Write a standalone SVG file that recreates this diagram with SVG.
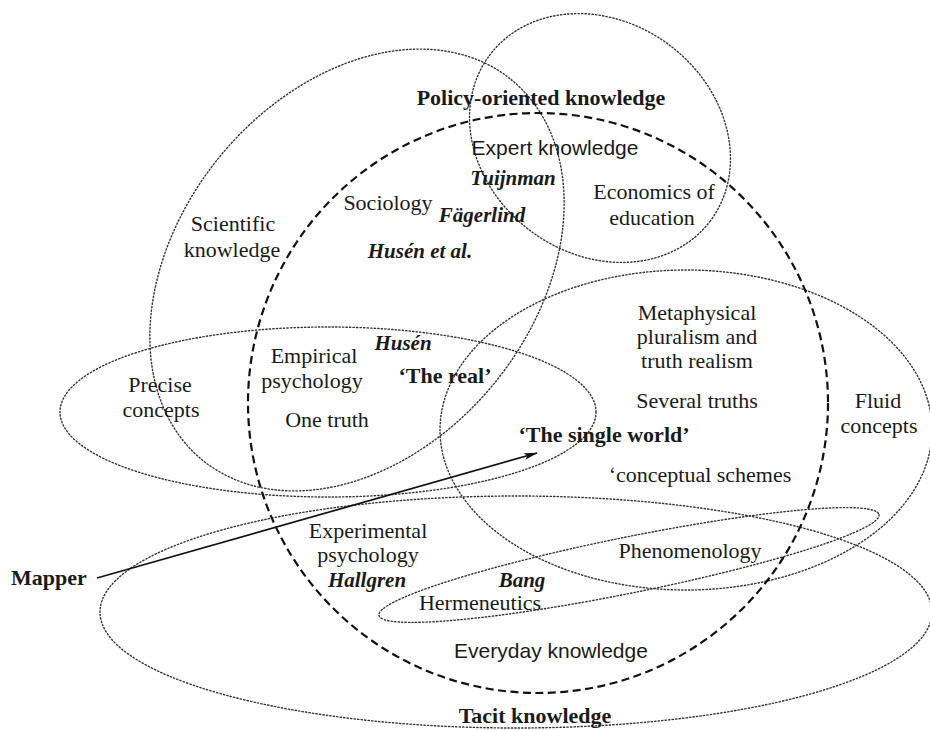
<svg xmlns="http://www.w3.org/2000/svg" width="930" height="730" viewBox="0 0 930 730">
  <defs>
    <marker id="arrowhead" viewBox="0 0 14 8" refX="13" refY="4" markerWidth="14" markerHeight="8" markerUnits="userSpaceOnUse" orient="auto">
      <path d="M0,0.6 L14,4 L0,7.4 L3,4 Z" fill="#111"/>
    </marker>
  </defs>
  <style>
    .region { fill: none; stroke: #333; stroke-width: 1.4; stroke-dasharray: 1.3 2.2; stroke-linecap: round; }
    .core { fill: none; stroke: #111; stroke-width: 2.2; stroke-dasharray: 8 4.5; }
    .serif { font-family: "Liberation Serif", "Times New Roman", serif; font-size: 22px; fill: #1a1a1a; text-anchor: middle; }
    .sans { font-family: "Liberation Sans", Arial, sans-serif; font-size: 21px; fill: #1a1a1a; text-anchor: middle; }
    .bold { font-weight: bold; }
    .name { font-family: "Liberation Serif", "Times New Roman", serif; font-size: 21px; font-weight: bold; font-style: italic; fill: #1a1a1a; text-anchor: middle; }
    .link { fill: none; stroke: #111; stroke-width: 1.7; }
  </style>
  <rect width="930" height="730" fill="#ffffff"/>

  <!-- Tacit knowledge (wide bottom region) -->
  <g id="tacit-knowledge">
    <ellipse class="region" cx="516" cy="612" rx="416" ry="116"/>
    <text class="serif bold" x="535" y="723">Tacit knowledge</text>
  </g>

  <!-- Scientific knowledge (tilted region, upper left) -->
  <g id="scientific-knowledge">
    <ellipse class="region" cx="357" cy="270" rx="245" ry="178" transform="rotate(-51 357 270)"/>
    <text class="serif" x="233" y="231">Scientific</text>
    <text class="serif" x="232" y="257">knowledge</text>
  </g>

  <!-- Policy-oriented knowledge (top) -->
  <g id="policy-oriented-knowledge">
    <ellipse class="region" cx="600" cy="138" rx="138" ry="116" transform="rotate(37 600 138)"/>
    <text class="serif bold" x="541" y="105">Policy-oriented knowledge</text>
    <text class="serif" x="654" y="199">Economics of</text>
    <text class="serif" x="652" y="225">education</text>
  </g>

  <!-- Precise concepts (left band) -->
  <g id="precise-concepts">
    <ellipse class="region" cx="328" cy="412" rx="268" ry="85"/>
    <text class="serif" x="160" y="392">Precise</text>
    <text class="serif" x="161" y="417">concepts</text>
  </g>

  <!-- Fluid concepts (right region) -->
  <g id="fluid-concepts">
    <ellipse class="region" cx="686" cy="430" rx="246" ry="160"/>
    <text class="serif" x="878" y="408">Fluid</text>
    <text class="serif" x="879" y="433">concepts</text>
  </g>

  <!-- Hermeneutics / phenomenology (thin tilted band) -->
  <g id="hermeneutics">
    <ellipse class="region" cx="629" cy="565" rx="255" ry="28" transform="rotate(-11.4 629 565)"/>
    <text class="serif" x="690" y="558">Phenomenology</text>
    <text class="name" x="522" y="587">Bang</text>
    <text class="serif" x="480" y="610">Hermeneutics</text>
  </g>

  <!-- Central dashed circle -->
  <g id="the-real">
    <circle class="core" cx="538" cy="403" r="290"/>
    <text class="sans" x="555" y="155">Expert knowledge</text>
    <text class="name" x="513" y="185">Tuijnman</text>
    <text class="serif" x="388" y="210">Sociology</text>
    <text class="name" x="482" y="222">Fägerlind</text>
    <text class="name" x="420" y="258">Husén et al.</text>
    <text class="name" x="403" y="350">Husén</text>
    <text class="serif" x="314" y="363">Empirical</text>
    <text class="serif" x="312" y="388">psychology</text>
    <text class="serif bold" x="445" y="383">‘The real’</text>
    <text class="serif" x="327" y="427">One truth</text>
    <text class="serif" x="697" y="320">Metaphysical</text>
    <text class="serif" x="697" y="344">pluralism and</text>
    <text class="serif" x="697" y="368">truth realism</text>
    <text class="serif" x="697" y="408">Several truths</text>
    <text class="serif bold" x="604" y="442">‘The single world’</text>
    <text class="serif" x="700" y="482">‘conceptual schemes</text>
    <text class="serif" x="368" y="538">Experimental</text>
    <text class="serif" x="368" y="562">psychology</text>
    <text class="name" x="367" y="587">Hallgren</text>
    <text class="sans" x="551" y="658">Everyday knowledge</text>
  </g>

  <!-- Mapper -->
  <g id="mapper">
    <text class="serif bold" x="49" y="585">Mapper</text>
  </g>

  <!-- Connectors -->
  <g id="connectors">
    <line class="link" x1="97" y1="578" x2="537" y2="453" marker-end="url(#arrowhead)"/>
  </g>
</svg>
